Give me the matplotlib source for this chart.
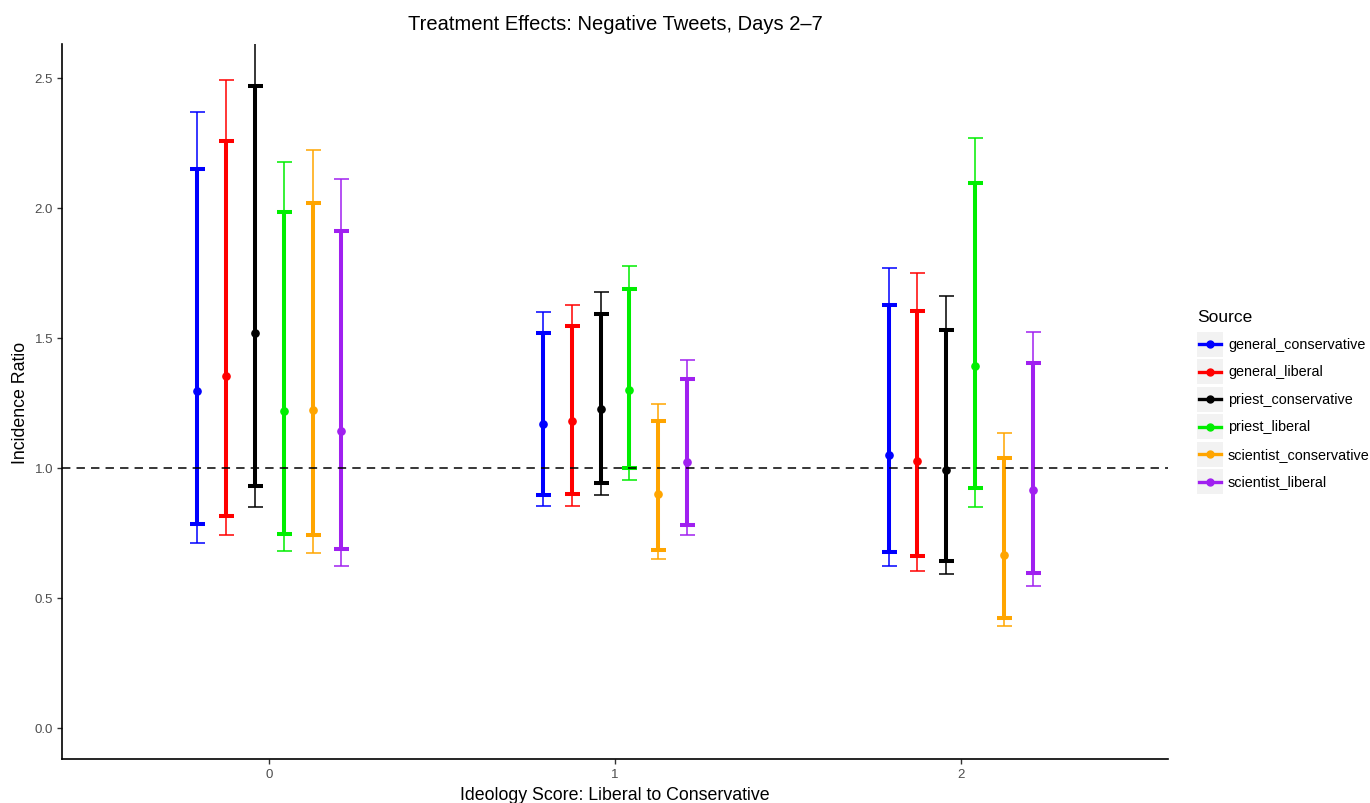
import matplotlib
matplotlib.use("Agg")
import matplotlib.pyplot as plt
from matplotlib.patches import Rectangle
from matplotlib.lines import Line2D
import numpy as np

plt.rcParams['font.family'] = ['Liberation Sans', 'DejaVu Sans']

# Ideology score groups on the x axis
ideology = [0, 1, 2]

sources = ["general_conservative", "general_liberal", "priest_conservative",
           "priest_liberal", "scientist_conservative", "scientist_liberal"]
colors = ["#0000FF", "#FF0000", "#000000", "#00EE00", "#FFA500", "#A020F0"]

# Incidence ratio estimates, one list per source (groups 0, 1, 2)
estimate = {
    "general_conservative":   [1.296, 1.167, 1.050],
    "general_liberal":        [1.355, 1.181, 1.027],
    "priest_conservative":    [1.518, 1.226, 0.990],
    "priest_liberal":         [1.217, 1.300, 1.390],
    "scientist_conservative": [1.222, 0.900, 0.663],
    "scientist_liberal":      [1.142, 1.023, 0.915],
}
# Inner (90%) interval
inner_lo = {
    "general_conservative":   [0.782, 0.896, 0.677],
    "general_liberal":        [0.814, 0.899, 0.659],
    "priest_conservative":    [0.930, 0.942, 0.640],
    "priest_liberal":         [0.747, 0.999, 0.922],
    "scientist_conservative": [0.740, 0.685, 0.423],
    "scientist_liberal":      [0.687, 0.779, 0.596],
}
inner_hi = {
    "general_conservative":   [2.150, 1.519, 1.627],
    "general_liberal":        [2.258, 1.544, 1.605],
    "priest_conservative":    [2.467, 1.592, 1.529],
    "priest_liberal":         [1.982, 1.688, 2.096],
    "scientist_conservative": [2.019, 1.180, 1.038],
    "scientist_liberal":      [1.910, 1.342, 1.403],
}
# Outer (95%) interval
outer_lo = {
    "general_conservative":   [0.709, 0.852, 0.624],
    "general_liberal":        [0.740, 0.855, 0.605],
    "priest_conservative":    [0.851, 0.897, 0.590],
    "priest_liberal":         [0.681, 0.954, 0.851],
    "scientist_conservative": [0.672, 0.650, 0.390],
    "scientist_liberal":      [0.624, 0.740, 0.547],
}
outer_hi = {
    "general_conservative":   [2.370, 1.598, 1.769],
    "general_liberal":        [2.490, 1.628, 1.748],
    "priest_conservative":    [2.720, 1.675, 1.662],
    "priest_liberal":         [2.176, 1.776, 2.269],
    "scientist_conservative": [2.224, 1.247, 1.133],
    "scientist_liberal":      [2.109, 1.413, 1.523],
}

W, H, DPI = 1370, 804, 100
fig = plt.figure(figsize=(W / DPI, H / DPI), dpi=DPI)
ax = fig.add_axes([62 / W, 1 - 760 / H, (1168 - 62) / W, (760 - 45) / H])

dodge = 0.5
n = len(sources)
cap = 5.4
for i, (src, col) in enumerate(zip(sources, colors)):
    off = -dodge / 2 + dodge / n * (i + 0.5)
    x = np.array(ideology) + off
    est = np.array(estimate[src])
    olo, ohi = np.array(outer_lo[src]), np.array(outer_hi[src])
    ilo, ihi = np.array(inner_lo[src]), np.array(inner_hi[src])
    ax.errorbar(x, est, yerr=[est - olo, ohi - est], fmt='none', ecolor=col,
                elinewidth=1.1, capsize=cap, capthick=1.1, zorder=2)
    ax.errorbar(x, est, yerr=[est - ilo, ihi - est], fmt='none', ecolor=col,
                elinewidth=2.9, capsize=cap, capthick=2.9, zorder=3)
    ax.plot(x, est, 'o', color=col, markersize=5.2, zorder=4)

ax.axhline(1.0, color='black', linestyle=(0, (5.5, 4)), linewidth=1.1, zorder=5)

ax.set_xlim(-0.6, 2.6)
ax.set_ylim(-0.12, 2.63)
ax.set_xticks(ideology)
ax.set_xticklabels([str(v) for v in ideology])
ax.set_yticks([0.0, 0.5, 1.0, 1.5, 2.0, 2.5])
ax.set_yticklabels(["0.0", "0.5", "1.0", "1.5", "2.0", "2.5"])
for s in ["top", "right"]:
    ax.spines[s].set_visible(False)
for s in ["left", "bottom"]:
    ax.spines[s].set_linewidth(1.2)
ax.tick_params(axis='both', colors='#333333', labelcolor='#4D4D4D',
               labelsize=9.5, length=3.5, width=1.0, pad=3)

ax.set_xlabel("Ideology Score: Liberal to Conservative", fontsize=12.8,
              labelpad=4)
ax.set_ylabel("Incidence Ratio", fontsize=12.8, labelpad=4)
ax.set_title("Treatment Effects: Negative Tweets, Days 2\u20137", fontsize=14.5,
             pad=11)

# Legend drawn in its own axes with grey key boxes
lax = fig.add_axes([0, 0, 1, 1], facecolor='none')
lax.set_xlim(0, W)
lax.set_ylim(H, 0)
lax.axis('off')
lax.text(1197, 318, "Source", fontsize=12.5, va='center', ha='left')
y0, dy = 345.0, 27.5
for i, (src, col) in enumerate(zip(sources, colors)):
    yc = y0 + i * dy
    lax.add_patch(Rectangle((1197, yc - 12.5), 26, 25, facecolor='#F2F2F2',
                            edgecolor='none'))
    lax.add_line(Line2D([1199, 1221], [yc, yc], color=col, linewidth=2.4))
    lax.plot([1210], [yc], 'o', color=col, markersize=5)
    lax.text(1228, yc, src, fontsize=10.4, va='center', ha='left', color='black')

fig.savefig("out.png", dpi=DPI)
